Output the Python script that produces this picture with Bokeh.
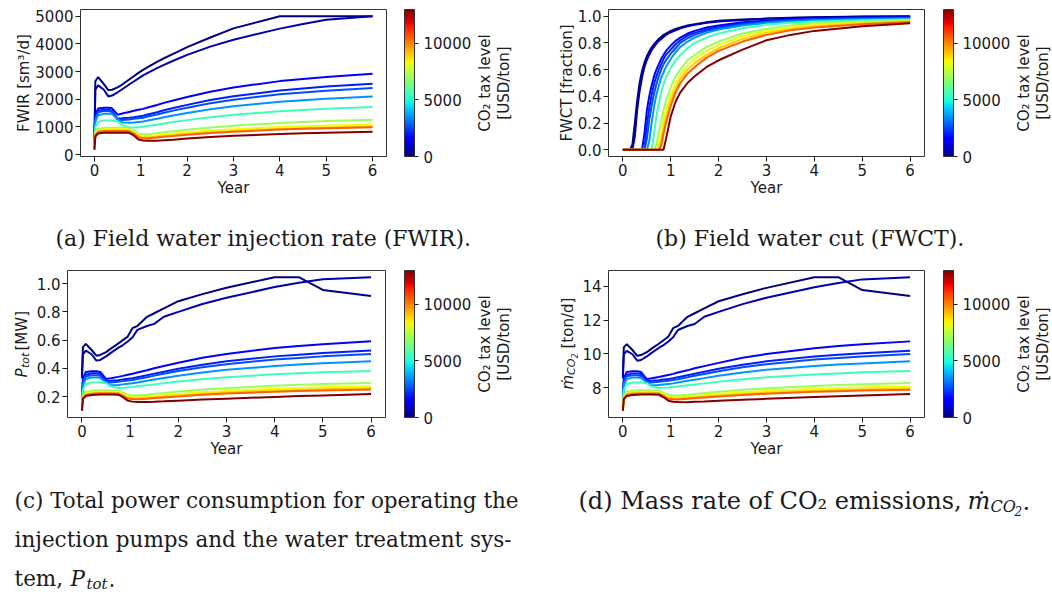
import numpy as np
from bokeh.plotting import figure
from bokeh.layouts import row, column
from bokeh.models import ColorBar, LinearColorMapper, FixedTicker, Label, PrintfTickFormatter, Range1d
from bokeh.embed import file_html
from bokeh.resources import INLINE

# CO2 tax levels (USD/ton), one curve per level
tax_levels = [0, 500, 1500, 2000, 2600, 3500, 5500, 7000, 8300, 9000, 10500, 13000]
TAX_MAX = 13000

# time grid (years) for injection rate, power and emissions
years = [0, 0.02, 0.08, 0.2, 0.3, 0.38, 0.5, 0.6, 0.75, 0.85, 0.95, 1.05, 1.15, 1.35, 1.5, 1.7, 2, 2.5, 3, 4, 4.5, 5, 6]

# field water injection rate [sm3/d]
fwir_0 = [400, 2650, 2800, 2550, 2330, 2340, 2430, 2530, 2710, 2830, 2950, 3060, 3160, 3350, 3480, 3640, 3880, 4230, 4560, 5000, 5000, 5000, 5000]
fwir_500 = [400, 2350, 2500, 2350, 2100, 2130, 2250, 2360, 2530, 2640, 2750, 2860, 2950, 3120, 3240, 3390, 3600, 3900, 4150, 4550, 4720, 4870, 5000]
fwir_1500 = [800, 1450, 1660, 1690, 1690, 1670, 1440, 1480, 1540, 1580, 1615, 1650, 1700, 1790, 1866, 1955, 2082, 2272, 2425, 2653, 2730, 2806, 2920]
fwir_2000 = [700, 1350, 1580, 1620, 1620, 1580, 1300, 1310, 1330, 1350, 1375, 1400, 1446, 1528, 1597, 1678, 1794, 1968, 2108, 2316, 2386, 2456, 2560]
fwir_2600 = [650, 1300, 1530, 1570, 1570, 1540, 1250, 1250, 1270, 1290, 1310, 1330, 1373, 1448, 1512, 1587, 1694, 1854, 1983, 2175, 2240, 2304, 2400]
fwir_3500 = [600, 1200, 1420, 1470, 1470, 1460, 1280, 1160, 1150, 1160, 1175, 1190, 1226, 1290, 1345, 1408, 1499, 1636, 1745, 1909, 1964, 2018, 2100]
fwir_5500 = [450, 1000, 1180, 1230, 1230, 1230, 1200, 1060, 975, 980, 990, 1000, 1029, 1079, 1122, 1172, 1243, 1350, 1436, 1565, 1608, 1651, 1715]
fwir_7000 = [300, 800, 930, 960, 970, 970, 970, 970, 955, 860, 760, 740, 735, 772, 803, 839, 897, 980, 1043, 1142, 1179, 1210, 1257]
fwir_8300 = [250, 750, 880, 910, 920, 920, 920, 920, 905, 820, 700, 675, 670, 699, 724, 753, 799, 866, 916, 995, 1024, 1049, 1087]
fwir_9000 = [220, 720, 840, 870, 880, 880, 880, 880, 865, 780, 650, 620, 612, 643, 667, 695, 739, 803, 850, 926, 954, 978, 1014]
fwir_10500 = [200, 700, 810, 840, 850, 850, 850, 850, 840, 755, 620, 592, 585, 613, 638, 666, 711, 775, 824, 901, 929, 954, 990]
fwir_13000 = [170, 650, 760, 785, 790, 790, 790, 790, 785, 690, 540, 505, 495, 495, 515, 537, 577, 632, 675, 744, 766, 789, 822]

# total power consumption [MW]
ptot_0 = [0.35, 0.55, 0.573, 0.53, 0.49, 0.495, 0.515, 0.54, 0.575, 0.60, 0.625, 0.685, 0.70, 0.765, 0.79, 0.825, 0.875, 0.925, 0.97, 1.045, 1.045, 0.955, 0.912]
ptot_500 = [0.33, 0.50, 0.525, 0.50, 0.455, 0.46, 0.485, 0.51, 0.545, 0.565, 0.59, 0.62, 0.672, 0.70, 0.715, 0.765, 0.80, 0.855, 0.90, 0.975, 1.005, 1.03, 1.045]
ptot_1500 = [0.20, 0.33, 0.375, 0.38, 0.38, 0.375, 0.325, 0.33, 0.34, 0.347, 0.355, 0.362, 0.371, 0.387, 0.401, 0.417, 0.44, 0.475, 0.502, 0.544, 0.558, 0.571, 0.592]
ptot_2000 = [0.19, 0.31, 0.355, 0.365, 0.365, 0.36, 0.31, 0.312, 0.317, 0.322, 0.326, 0.33, 0.338, 0.352, 0.363, 0.377, 0.397, 0.426, 0.45, 0.485, 0.497, 0.508, 0.526]
ptot_2600 = [0.18, 0.30, 0.345, 0.352, 0.352, 0.347, 0.30, 0.30, 0.305, 0.31, 0.314, 0.318, 0.325, 0.338, 0.349, 0.362, 0.381, 0.408, 0.43, 0.463, 0.474, 0.485, 0.502]
ptot_3500 = [0.17, 0.28, 0.325, 0.335, 0.335, 0.333, 0.30, 0.28, 0.283, 0.287, 0.291, 0.295, 0.301, 0.312, 0.321, 0.332, 0.348, 0.371, 0.39, 0.417, 0.427, 0.436, 0.45]
ptot_5500 = [0.14, 0.25, 0.29, 0.30, 0.30, 0.30, 0.295, 0.272, 0.262, 0.263, 0.265, 0.268, 0.273, 0.281, 0.287, 0.295, 0.307, 0.324, 0.338, 0.358, 0.365, 0.372, 0.382]
ptot_7000 = [0.12, 0.20, 0.235, 0.242, 0.245, 0.245, 0.245, 0.245, 0.243, 0.228, 0.213, 0.209, 0.208, 0.214, 0.22, 0.226, 0.236, 0.25, 0.26, 0.277, 0.284, 0.289, 0.297]
ptot_8300 = [0.115, 0.195, 0.225, 0.232, 0.235, 0.235, 0.235, 0.235, 0.233, 0.217, 0.201, 0.197, 0.195, 0.2, 0.205, 0.211, 0.219, 0.232, 0.241, 0.256, 0.261, 0.266, 0.273]
ptot_9000 = [0.11, 0.19, 0.218, 0.225, 0.228, 0.228, 0.228, 0.228, 0.226, 0.21, 0.192, 0.188, 0.186, 0.191, 0.195, 0.201, 0.209, 0.22, 0.229, 0.243, 0.248, 0.252, 0.259]
ptot_10500 = [0.105, 0.185, 0.212, 0.219, 0.222, 0.222, 0.222, 0.222, 0.221, 0.205, 0.187, 0.183, 0.181, 0.186, 0.19, 0.195, 0.202, 0.213, 0.222, 0.235, 0.24, 0.244, 0.25]
ptot_13000 = [0.10, 0.185, 0.205, 0.212, 0.214, 0.215, 0.215, 0.215, 0.214, 0.197, 0.172, 0.165, 0.163, 0.162, 0.164, 0.167, 0.172, 0.18, 0.186, 0.198, 0.204, 0.209, 0.219]

# CO2 emission mass rate [ton/d]
mco2_0 = [8.72, 10.39, 10.58, 10.23, 9.89, 9.93, 10.10, 10.31, 10.60, 10.81, 11.02, 11.52, 11.65, 12.19, 12.40, 12.69, 13.11, 13.52, 13.90, 14.53, 14.53, 13.77, 13.42]
mco2_500 = [8.56, 9.98, 10.18, 9.98, 9.60, 9.64, 9.85, 10.06, 10.35, 10.52, 10.73, 10.98, 11.41, 11.65, 11.77, 12.19, 12.48, 12.94, 13.32, 13.94, 14.19, 14.40, 14.53]
mco2_1500 = [7.47, 8.56, 8.93, 8.97, 8.97, 8.93, 8.51, 8.56, 8.64, 8.70, 8.76, 8.82, 8.90, 9.03, 9.15, 9.28, 9.47, 9.77, 9.99, 10.34, 10.46, 10.57, 10.74]
mco2_2000 = [7.39, 8.39, 8.76, 8.85, 8.85, 8.81, 8.39, 8.41, 8.45, 8.49, 8.52, 8.56, 8.62, 8.74, 8.83, 8.95, 9.12, 9.36, 9.56, 9.85, 9.95, 10.04, 10.19]
mco2_2600 = [7.30, 8.31, 8.68, 8.74, 8.74, 8.70, 8.31, 8.31, 8.35, 8.39, 8.42, 8.46, 8.51, 8.62, 8.71, 8.82, 8.98, 9.21, 9.39, 9.67, 9.76, 9.85, 9.99]
mco2_3500 = [7.22, 8.14, 8.51, 8.60, 8.60, 8.58, 8.31, 8.14, 8.16, 8.20, 8.23, 8.26, 8.31, 8.41, 8.48, 8.57, 8.71, 8.90, 9.06, 9.28, 9.37, 9.44, 9.56]
mco2_5500 = [6.97, 7.89, 8.22, 8.31, 8.31, 8.31, 8.26, 8.07, 7.99, 8.00, 8.01, 8.04, 8.08, 8.15, 8.20, 8.26, 8.36, 8.51, 8.62, 8.79, 8.85, 8.91, 8.99]
mco2_7000 = [6.80, 7.47, 7.76, 7.82, 7.85, 7.85, 7.85, 7.85, 7.83, 7.70, 7.58, 7.55, 7.54, 7.59, 7.64, 7.69, 7.77, 7.89, 7.97, 8.11, 8.17, 8.21, 8.28]
mco2_8300 = [6.76, 7.43, 7.68, 7.74, 7.76, 7.76, 7.76, 7.76, 7.75, 7.61, 7.48, 7.44, 7.43, 7.47, 7.51, 7.56, 7.63, 7.74, 7.81, 7.94, 7.98, 8.02, 8.08]
mco2_9000 = [6.72, 7.39, 7.62, 7.68, 7.70, 7.70, 7.70, 7.70, 7.69, 7.55, 7.40, 7.37, 7.35, 7.39, 7.43, 7.48, 7.55, 7.64, 7.71, 7.83, 7.87, 7.90, 7.96]
mco2_10500 = [6.68, 7.34, 7.57, 7.63, 7.65, 7.65, 7.65, 7.65, 7.65, 7.51, 7.36, 7.33, 7.31, 7.35, 7.39, 7.43, 7.49, 7.58, 7.65, 7.76, 7.80, 7.84, 7.89]
mco2_13000 = [6.64, 7.34, 7.51, 7.57, 7.59, 7.60, 7.60, 7.60, 7.59, 7.44, 7.24, 7.18, 7.16, 7.15, 7.17, 7.19, 7.24, 7.30, 7.35, 7.45, 7.50, 7.55, 7.63]

# finer time grid (years) for the field water cut
years_wct = [0, 0.15, 0.2, 0.25, 0.3, 0.35, 0.4, 0.45, 0.5, 0.55, 0.6, 0.65, 0.7, 0.75, 0.8, 0.85, 0.9, 1.0, 1.1, 1.2, 1.35, 1.5, 1.75, 2, 2.5, 3, 3.5, 4, 5, 6]

# field water cut [fraction]
fwct_0 = [0, 0, 0.04, 0.2, 0.37, 0.5, 0.59, 0.65, 0.7, 0.735, 0.765, 0.79, 0.81, 0.83, 0.845, 0.86, 0.87, 0.89, 0.905, 0.915, 0.93, 0.94, 0.955, 0.965, 0.975, 0.982, 0.988, 0.992, 0.997, 1.0]
fwct_500 = [0, 0, 0, 0.1, 0.3, 0.44, 0.54, 0.62, 0.67, 0.71, 0.745, 0.77, 0.795, 0.815, 0.83, 0.845, 0.86, 0.88, 0.895, 0.91, 0.925, 0.935, 0.95, 0.96, 0.972, 0.98, 0.986, 0.99, 0.995, 0.998]
fwct_1500 = [0, 0, 0, 0, 0, 0, 0, 0.12, 0.29, 0.4, 0.48, 0.55, 0.6, 0.64, 0.68, 0.71, 0.74, 0.78, 0.815, 0.84, 0.87, 0.89, 0.915, 0.93, 0.955, 0.968, 0.977, 0.983, 0.989, 0.993]
fwct_2000 = [0, 0, 0, 0, 0, 0, 0, 0, 0.18, 0.31, 0.41, 0.49, 0.55, 0.6, 0.64, 0.68, 0.71, 0.75, 0.79, 0.82, 0.855, 0.875, 0.9, 0.92, 0.945, 0.962, 0.972, 0.978, 0.985, 0.99]
fwct_2600 = [0, 0, 0, 0, 0, 0, 0, 0, 0.08, 0.22, 0.33, 0.42, 0.49, 0.55, 0.6, 0.64, 0.67, 0.72, 0.76, 0.8, 0.835, 0.86, 0.89, 0.91, 0.94, 0.957, 0.968, 0.975, 0.982, 0.987]
fwct_3500 = [0, 0, 0, 0, 0, 0, 0, 0, 0, 0.06, 0.2, 0.32, 0.41, 0.48, 0.54, 0.58, 0.62, 0.68, 0.73, 0.77, 0.81, 0.84, 0.875, 0.9, 0.93, 0.95, 0.962, 0.97, 0.977, 0.982]
fwct_5500 = [0, 0, 0, 0, 0, 0, 0, 0, 0, 0, 0, 0.12, 0.25, 0.35, 0.43, 0.49, 0.54, 0.61, 0.67, 0.71, 0.76, 0.8, 0.84, 0.87, 0.91, 0.935, 0.95, 0.96, 0.97, 0.975]
fwct_7000 = [0, 0, 0, 0, 0, 0, 0, 0, 0, 0, 0, 0, 0.04, 0.13, 0.22, 0.3, 0.37, 0.47, 0.55, 0.6, 0.67, 0.71, 0.77, 0.81, 0.87, 0.905, 0.93, 0.945, 0.958, 0.967]
fwct_8300 = [0, 0, 0, 0, 0, 0, 0, 0, 0, 0, 0, 0, 0, 0.05, 0.13, 0.22, 0.3, 0.41, 0.5, 0.56, 0.63, 0.68, 0.74, 0.785, 0.85, 0.89, 0.915, 0.935, 0.952, 0.963]
fwct_9000 = [0, 0, 0, 0, 0, 0, 0, 0, 0, 0, 0, 0, 0, 0, 0.07, 0.16, 0.24, 0.37, 0.46, 0.53, 0.6, 0.65, 0.71, 0.76, 0.83, 0.875, 0.905, 0.925, 0.947, 0.96]
fwct_10500 = [0, 0, 0, 0, 0, 0, 0, 0, 0, 0, 0, 0, 0, 0, 0.03, 0.12, 0.2, 0.33, 0.43, 0.5, 0.57, 0.62, 0.69, 0.74, 0.81, 0.86, 0.895, 0.915, 0.94, 0.957]
fwct_13000 = [0, 0, 0, 0, 0, 0, 0, 0, 0, 0, 0, 0, 0, 0, 0, 0, 0.08, 0.25, 0.36, 0.43, 0.5, 0.55, 0.62, 0.67, 0.75, 0.82, 0.86, 0.89, 0.925, 0.948]

fwir_series = [fwir_0, fwir_500, fwir_1500, fwir_2000, fwir_2600, fwir_3500, fwir_5500, fwir_7000, fwir_8300, fwir_9000, fwir_10500, fwir_13000]
fwct_series = [fwct_0, fwct_500, fwct_1500, fwct_2000, fwct_2600, fwct_3500, fwct_5500, fwct_7000, fwct_8300, fwct_9000, fwct_10500, fwct_13000]
ptot_series = [ptot_0, ptot_500, ptot_1500, ptot_2000, ptot_2600, ptot_3500, ptot_5500, ptot_7000, ptot_8300, ptot_9000, ptot_10500, ptot_13000]
mco2_series = [mco2_0, mco2_500, mco2_1500, mco2_2000, mco2_2600, mco2_3500, mco2_5500, mco2_7000, mco2_8300, mco2_9000, mco2_10500, mco2_13000]


def jet_palette(n=256):
    s = np.linspace(0.0, 1.0, n)
    r = np.interp(s, [0, 0.35, 0.66, 0.89, 1], [0, 0, 1, 1, 0.5])
    g = np.interp(s, [0, 0.125, 0.375, 0.64, 0.91, 1], [0, 0, 1, 1, 0, 0])
    b = np.interp(s, [0, 0.11, 0.34, 0.65, 1], [0.5, 1, 1, 0, 0])
    return ["#%02x%02x%02x" % (int(round(255 * a)), int(round(255 * c)), int(round(255 * d)))
            for a, c, d in zip(r, g, b)]


JET = jet_palette()
SANS = "DejaVu Sans"
SERIF = "DejaVu Serif"
INK = "#1a1a1a"
TICK_PX = "15px"

ROW1_H, CAP1_H, ROW2_H, CAP2_H = 200, 62, 198, 136
FRAME_H = 147
TOP1, TOP2 = 9, 8
BOT1, BOT2 = ROW1_H - TOP1 - FRAME_H, ROW2_H - TOP2 - FRAME_H


def tax_color(t):
    return JET[int(round(t / TAX_MAX * 255))]


def put_text(p, x, y, s, size, angle=0.0, style="normal", font=SANS, align="left", baseline="middle"):
    p.add_layout(Label(x=x, y=y, x_units="screen", y_units="screen", text=s,
                       text_font=font, text_font_size=f"{size}px", text_font_style=style,
                       text_color=INK, angle=angle, text_align=align, text_baseline=baseline))


def blank(width, height, top=0, bottom=0):
    """Axis-free canvas used for side labels, colour bars and captions."""
    f = figure(width=width, height=height, output_backend="svg", toolbar_location=None,
               x_axis_type=None, y_axis_type=None,
               min_border_left=0, min_border_right=0,
               min_border_top=top, min_border_bottom=bottom,
               x_range=Range1d(0, 1), y_range=Range1d(0, 1))
    f.outline_line_color = None
    f.background_fill_color = "white"
    f.border_fill_color = "white"
    return f


def panel(width, height, left, top, bottom, xs, series, yticks, yfmt=None):
    flat = [v for s in series for v in s]
    lo, hi = min(flat), max(flat)
    pad = 0.05 * (hi - lo)
    p = figure(width=width, height=height, output_backend="svg", toolbar_location=None,
               x_range=Range1d(-0.3, 6.3), y_range=Range1d(lo - pad, hi + pad),
               min_border_left=left, min_border_right=2,
               min_border_top=top, min_border_bottom=bottom)
    p.xgrid.visible = False
    p.ygrid.visible = False
    p.outline_line_color = "#333333"
    p.outline_line_width = 1
    p.background_fill_color = "white"
    p.border_fill_color = "white"
    for ax in (p.xaxis[0], p.yaxis[0]):
        ax.axis_line_color = None
        ax.major_tick_in = 0
        ax.major_tick_out = 5
        ax.major_tick_line_color = INK
        ax.minor_tick_line_color = None
        ax.major_label_text_font = SANS
        ax.major_label_text_font_size = TICK_PX
        ax.major_label_text_color = INK
        ax.major_label_standoff = 2
    p.xaxis.ticker = FixedTicker(ticks=[0, 1, 2, 3, 4, 5, 6])
    p.yaxis.ticker = FixedTicker(ticks=yticks)
    if yfmt:
        p.yaxis.formatter = PrintfTickFormatter(format=yfmt)
    p.xaxis.axis_label = "Year"
    p.xaxis.axis_label_text_font = SANS
    p.xaxis.axis_label_text_font_size = TICK_PX
    p.xaxis.axis_label_text_font_style = "normal"
    p.xaxis.axis_label_text_color = INK
    p.xaxis.axis_label_standoff = 0
    for t, s in zip(tax_levels, series):
        p.line(xs, s, line_color=tax_color(t), line_width=2)
    return p


def colorbar_strip(width, height, top, bottom, bar_x):
    """Colour bar beside a panel; its frame lines up with the panel frame."""
    f = blank(width, height, top, bottom)
    mapper = LinearColorMapper(palette=JET, low=0, high=TAX_MAX)
    cb = ColorBar(color_mapper=mapper, location=(bar_x, 0), width=10, height=FRAME_H,
                  padding=0, margin=0, ticker=FixedTicker(ticks=[0, 5000, 10000]),
                  major_label_text_font=SANS, major_label_text_font_size=TICK_PX,
                  major_label_text_color=INK, major_tick_in=0, major_tick_out=4,
                  major_tick_line_color=INK, minor_tick_line_color=None,
                  bar_line_color="#333333", border_line_color=None,
                  background_fill_alpha=0, label_standoff=5)
    f.add_layout(cb)
    mid = FRAME_H / 2
    put_text(f, bar_x + 10 + 70, mid, "CO\u2082 tax level", 15, angle=np.pi / 2, align="center")
    put_text(f, bar_x + 10 + 89, mid, "[USD/ton]", 15, angle=np.pi / 2, align="center")
    return f


# ---- top row: (a) injection rate, (b) water cut
yl_a = blank(32, ROW1_H, TOP1, BOT1)
put_text(yl_a, 23, FRAME_H / 2, "FWIR [sm\u00b3/d]", 15, angle=np.pi / 2, align="center")
pa = panel(356, ROW1_H, 48, TOP1, BOT1, years, fwir_series, [0, 1000, 2000, 3000, 4000, 5000])
cb_a = colorbar_strip(138, ROW1_H, TOP1, BOT1, 16)

yl_b = blank(48, ROW1_H, TOP1, BOT1)
put_text(yl_b, 40, FRAME_H / 2, "FWCT [fraction]", 15, angle=np.pi / 2, align="center")
pb = panel(352, ROW1_H, 33, TOP1, BOT1, years_wct, fwct_series,
           [0.0, 0.2, 0.4, 0.6, 0.8, 1.0], "%.1f")
cb_b = colorbar_strip(126, ROW1_H, TOP1, BOT1, 17)

cap1 = blank(1052, CAP1_H)
put_text(cap1, 55, 24, "(a) Field water injection rate (FWIR).", 22, font=SERIF)
put_text(cap1, 655, 24, "(b) Field water cut (FWCT).", 22, font=SERIF)

# ---- bottom row: (c) total power, (d) CO2 emission rate
yl_c = blank(33, ROW2_H, TOP2, BOT2)
put_text(yl_c, 21, 40, "P", 15, angle=np.pi / 2, style="italic")
put_text(yl_c, 25, 49.5, "tot", 11, angle=np.pi / 2, style="italic")
put_text(yl_c, 21, 67, "[MW]", 15, angle=np.pi / 2)
pc = panel(354, ROW2_H, 30, TOP2, BOT2, years, ptot_series,
           [0.2, 0.4, 0.6, 0.8, 1.0], "%.1f")
cb_c = colorbar_strip(139, ROW2_H, TOP2, BOT2, 17)

yl_d = blank(52, ROW2_H, TOP2, BOT2)
put_text(yl_d, 41, 28, "\u1e41", 15, angle=np.pi / 2, style="italic")
put_text(yl_d, 45, 42.6, "CO", 11, angle=np.pi / 2, style="italic")
put_text(yl_d, 47.5, 59, "2", 8, angle=np.pi / 2, style="italic")
put_text(yl_d, 41, 69, "[ton/d]", 15, angle=np.pi / 2)
pd = panel(348, ROW2_H, 30, TOP2, BOT2, years, mco2_series, [8, 10, 12, 14])
cb_d = colorbar_strip(126, ROW2_H, TOP2, BOT2, 17)

cap2 = blank(1052, CAP2_H)
put_text(cap2, 14, 96, "(c) Total power consumption for operating the", 21.5, font=SERIF)
put_text(cap2, 14, 57, "injection pumps and the water treatment sys-", 21.5, font=SERIF)
put_text(cap2, 14, 18, "tem, ", 21.5, font=SERIF)
put_text(cap2, 70, 18, "P", 21.5, font=SERIF, style="italic")
put_text(cap2, 86, 13, "tot", 15, font=SERIF, style="italic")
put_text(cap2, 108, 18, ".", 21.5, font=SERIF)
put_text(cap2, 578, 96, "(d) Mass rate of CO\u2082 emissions,", 24, font=SERIF)
put_text(cap2, 967, 96, "\u1e41", 24, font=SERIF, style="italic")
put_text(cap2, 990, 90, "CO", 16, font=SERIF, style="italic")
put_text(cap2, 1014, 86, "2", 12, font=SERIF, style="italic")
put_text(cap2, 1022, 96, ".", 24, font=SERIF)

page = column(row(yl_a, pa, cb_a, yl_b, pb, cb_b),
              cap1,
              row(yl_c, pc, cb_c, yl_d, pd, cb_d),
              cap2)

open("out.html", "w").write(file_html(page, INLINE, title="CO2 tax level sensitivity"))
